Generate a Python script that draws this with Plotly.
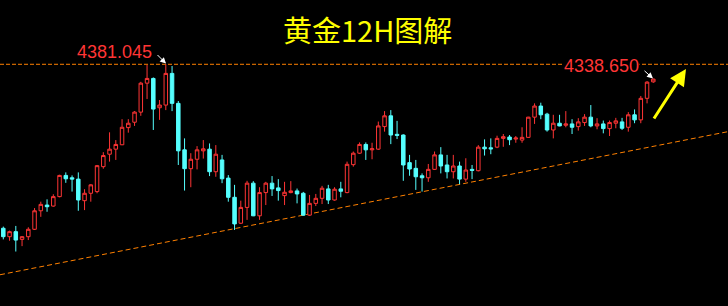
import plotly.graph_objects as go

# ---- data (XAUUSD 12H candles) ----
opens = [3894, 3869, 3884, 3861, 3869, 3891, 3946, 3963, 3960, 3988,
         4051, 4044, 4040, 3976, 3998, 4003, 4077, 4114, 4129, 4142,
         4193, 4209, 4239, 4325, 4339, 4252, 4260, 4354, 4265, 4127,
         4071, 4099, 4124, 4129, 4062, 4097, 4043, 3986, 3909, 3956,
         4028, 3931, 4000, 4028, 4014, 3991, 4000, 4005, 3998, 3933,
         3968, 3983, 4011, 3978, 4011, 4000, 4083, 4117, 4143, 4127,
         4129, 4196, 4228, 4173, 4171, 4089, 4072, 4050, 4044, 4069,
         4112, 4082, 4062, 4079, 4040, 4069, 4065, 4135, 4133, 4135,
         4161, 4165, 4159, 4156, 4164, 4224, 4257, 4233, 4186, 4206,
         4200, 4204, 4196, 4208, 4224, 4198, 4204, 4190, 4206, 4210,
         4194, 4231, 4216, 4280, 4329]
highs = [3899, 3887, 3901, 3871, 3897, 3954, 3973, 3980, 3995, 4053,
         4060, 4051, 4060, 4010, 4025, 4082, 4120, 4179, 4156, 4218,
         4218, 4242, 4329, 4379, 4342, 4275, 4381.045, 4376, 4272, 4161,
         4117, 4138, 4156, 4146, 4141, 4112, 4052, 4023, 3976, 4035,
         4034, 4016, 4032, 4049, 4040, 4032, 4034, 4012, 4002, 3993,
         3996, 4020, 4023, 4016, 4032, 4092, 4122, 4149, 4149, 4148,
         4211, 4242, 4245, 4213, 4173, 4112, 4097, 4057, 4085, 4122,
         4135, 4112, 4112, 4092, 4102, 4082, 4141, 4158, 4161, 4169,
         4174, 4171, 4168, 4194, 4225, 4265, 4267, 4237, 4231, 4231,
         4242, 4218, 4221, 4233, 4260, 4221, 4214, 4214, 4222, 4222,
         4239, 4247, 4287, 4331, 4338.65]
lows = [3861, 3857, 3825, 3841, 3859, 3889, 3928, 3943, 3958, 3986,
        4029, 4003, 3946, 3948, 3973, 3998, 4071, 4092, 4097, 4141,
        4178, 4198, 4228, 4278, 4186, 4216, 4245, 4242, 4082, 4006,
        4016, 4069, 4101, 4049, 4047, 4028, 3973, 3889, 3907, 3919,
        3930, 3919, 3963, 3990, 3976, 3963, 3998, 3968, 3931, 3931,
        3960, 3966, 3966, 3976, 3986, 3998, 4077, 4115, 4097, 4099,
        4127, 4181, 4144, 4159, 4035, 4050, 4008, 4003, 4032, 4067,
        4057, 4042, 4042, 4025, 4032, 4040, 4063, 4110, 4114, 4132,
        4136, 4141, 4148, 4148, 4163, 4204, 4218, 4181, 4161, 4197,
        4194, 4174, 4184, 4198, 4194, 4188, 4176, 4168, 4191, 4186,
        4181, 4206, 4206, 4265, 4326]
closes = [3869, 3884, 3859, 3869, 3891, 3946, 3965, 3958, 3988, 4051,
          4041, 4040, 3978, 3998, 4023, 4080, 4110, 4129, 4143, 4194,
          4206, 4239, 4325, 4339, 4248, 4260, 4354, 4265, 4124, 4071,
          4099, 4127, 4130, 4062, 4114, 4041, 3986, 3907, 3956, 4028,
          3931, 4000, 4028, 4011, 4006, 4001, 4005, 3996, 3933, 3968,
          3983, 4013, 3978, 4010, 4004, 4084, 4117, 4143, 4127, 4130,
          4198, 4228, 4171, 4170, 4082, 4070, 4047, 4044, 4069, 4112,
          4079, 4062, 4079, 4040, 4067, 4066, 4135, 4130, 4130, 4161,
          4166, 4157, 4162, 4164, 4224, 4257, 4231, 4186, 4206, 4198,
          4204, 4194, 4210, 4224, 4198, 4204, 4190, 4208, 4213, 4191,
          4231, 4216, 4280, 4328, 4337]
bars = list(range(len(opens)))

resistance_level = 4381.045
resistance_label = "4381.045"
last_high_label = "4338.650"
trend_start = (-0.53, 3756)     # (bar index, price)
trend_end = (115.95, 4181)
title_text = "黄金12H图解"

RED = "#ff3535"
CYAN = "#55ffff"
ORANGE = "#ff8000"

fig = go.Figure()
fig.add_trace(go.Candlestick(
    x=bars, open=opens, high=highs, low=lows, close=closes,
    increasing=dict(line=dict(color=RED, width=1), fillcolor="#000000"),
    decreasing=dict(line=dict(color=CYAN, width=1), fillcolor=CYAN),
    whiskerwidth=0, hoverinfo="skip", showlegend=False,
))

# horizontal resistance line
fig.add_shape(type="line", xref="paper", yref="y", x0=0, x1=1,
              y0=resistance_level, y1=resistance_level,
              line=dict(color=ORANGE, width=1, dash="4px,2px"), layer="below")
# rising trend line
fig.add_shape(type="line", xref="x", yref="y",
              x0=trend_start[0], y0=trend_start[1], x1=trend_end[0], y1=trend_end[1],
              line=dict(color=ORANGE, width=1, dash="5px,3px"), layer="below")

W, H = 728, 306
annotations = [
    dict(text=title_text, xref="paper", yref="paper", x=367 / W, y=1 - 29 / H,
         xanchor="center", yanchor="middle", showarrow=False,
         font=dict(family="Noto Sans CJK SC", size=29, color="#ffff00")),
    dict(text=resistance_label, xref="paper", yref="paper", x=114 / W, y=1 - 52 / H,
         xanchor="center", yanchor="middle", showarrow=False,
         font=dict(family="Liberation Sans", size=18, color=RED)),
    dict(text=last_high_label, xref="paper", yref="paper", x=601 / W, y=1 - 66 / H,
         xanchor="center", yanchor="middle", showarrow=False, bgcolor="#000000",
         borderpad=0,
         font=dict(family="Liberation Sans", size=18, color=RED)),
    dict(text="", xref="paper", yref="paper", x=166 / W, y=1 - 63.5 / H,
         ax=-10, ay=-10, showarrow=True, arrowcolor="#ffffff", arrowwidth=1,
         arrowhead=2, arrowsize=1.2),
    dict(text="", xref="paper", yref="paper", x=653 / W, y=1 - 78.5 / H,
         ax=-10, ay=-9, showarrow=True, arrowcolor="#ffffff", arrowwidth=1,
         arrowhead=2, arrowsize=1.2),
    dict(text="", xref="paper", yref="paper", x=686 / W, y=1 - 69 / H,
         ax=-33, ay=51, showarrow=True, arrowcolor="#ffff00", arrowwidth=3,
         arrowhead=2, arrowsize=1.1),
]

fig.update_layout(
    width=W, height=H,
    margin=dict(l=0, r=0, t=0, b=0),
    paper_bgcolor="#000000", plot_bgcolor="#000000",
    boxgap=0.2,
    annotations=annotations,
    xaxis=dict(range=[-0.528, 115.95], visible=False, showgrid=False,
               rangeslider=dict(visible=False), fixedrange=True),
    yaxis=dict(range=[4572 - 2.97 * H, 4572], visible=False, showgrid=False,
               fixedrange=True),
    showlegend=False,
)

fig.write_html("out.html", config={"displayModeBar": False})
